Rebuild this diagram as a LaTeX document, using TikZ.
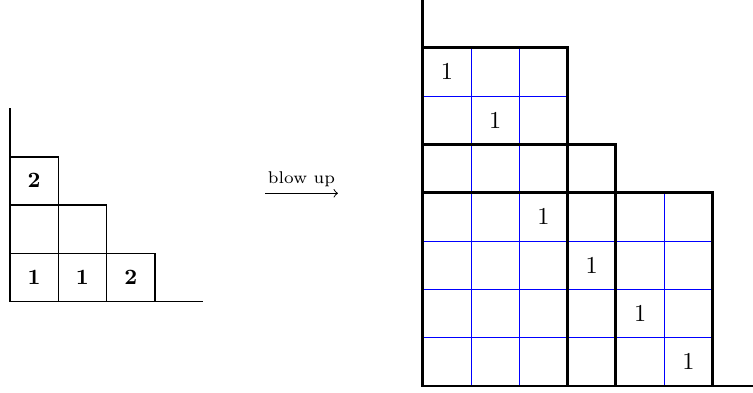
\documentclass[tikz,border=0pt]{standalone}
\usepackage{amsmath, amssymb}
\usepackage{tikz}

\begin{document}
\begin{tikzpicture}[x=0.7cm,y=0.7cm]
\useasboundingbox (-0.207,-1.87) rectangle (15.383,6.246);
\coordinate (O) at (0,0);
\coordinate (B) at (8.545,-1.745);
\coordinate (A1) at (5.28,2.244);
\coordinate (A2) at (6.79,2.244);
% small diagram
\draw[semithick] (0,4) -- (O) -- (4,0);
\draw[semithick] (0,1) -- (3,1) -- (3,0);
\draw[semithick] (0,2) -- (2,2) -- (2,0);
\draw[semithick] (0,3) -- (1,3) -- (1,0);
\node at (0.5,0.5) {\small$\mathbf{1}$};
\node at (1.5,0.5) {\small$\mathbf{1}$};
\node at (2.5,0.5) {\small$\mathbf{2}$};
\node at (0.5,2.5) {\small$\mathbf{2}$};
% arrow
\draw[->] (A1) -- node[above=-1pt] {\scriptsize blow up} (A2);
% blown up diagram
\begin{scope}[shift={(B)}]
\draw[blue] (1,0) -- (1,7) (2,0) -- (2,7) (5,0) -- (5,4);
\draw[blue] (0,1) -- (6,1) (0,2) -- (6,2) (0,3) -- (6,3) (0,6) -- (3,6);
\draw[very thick] (0,8) -- (0,0) -- (6.84,0);
\draw[very thick] (0,7) -- (3,7) -- (3,0);
\draw[very thick] (0,5) -- (4,5) -- (4,0);
\draw[very thick] (0,4) -- (6,4) -- (6,0);
\node at (0.5,6.5) {$1$};
\node at (1.5,5.5) {$1$};
\node at (2.5,3.5) {$1$};
\node at (3.5,2.5) {$1$};
\node at (4.5,1.5) {$1$};
\node at (5.5,0.5) {$1$};
\end{scope}
\end{tikzpicture}
\end{document}
